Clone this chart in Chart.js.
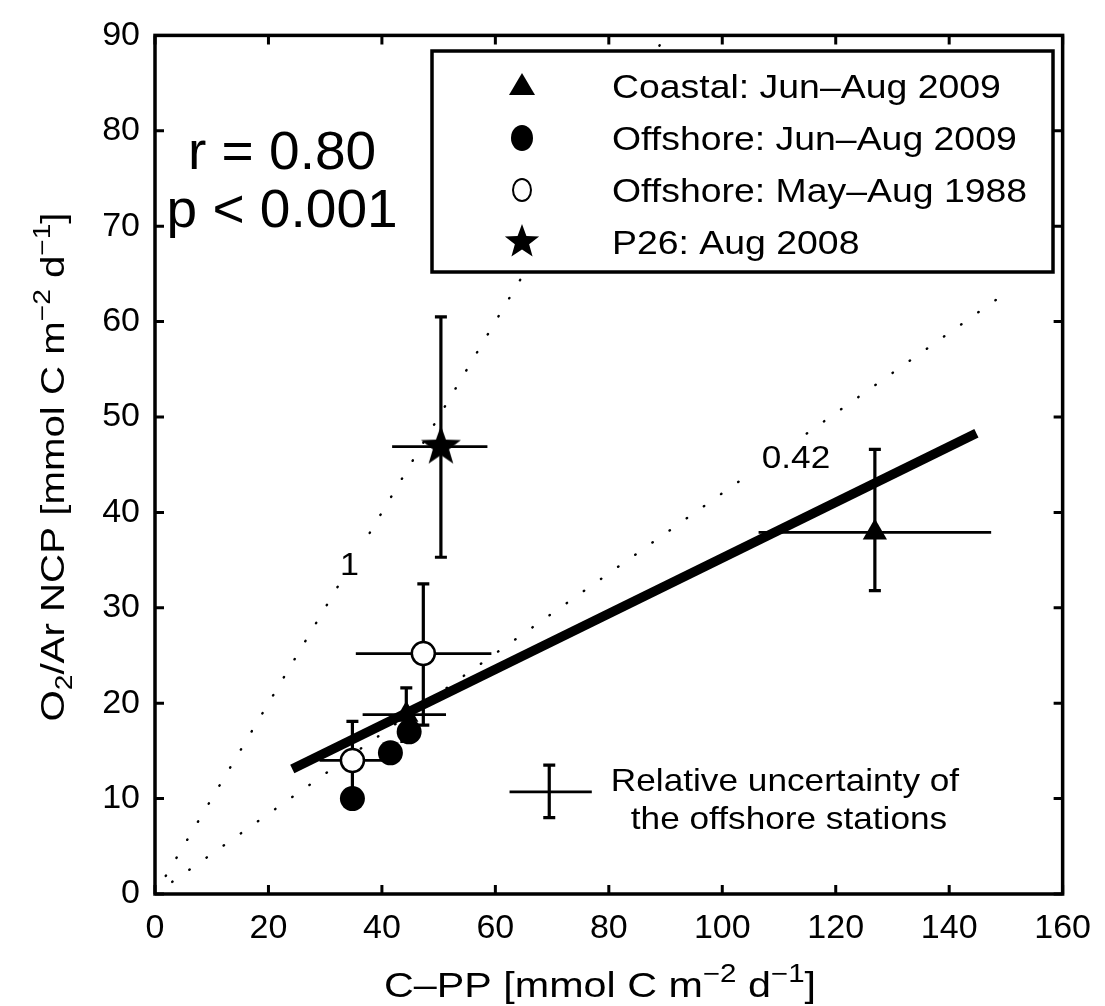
<!DOCTYPE html>
<html>
<head>
<meta charset="utf-8">
<script src="https://cdn.jsdelivr.net/npm/chart.js@4.4.0/dist/chart.umd.min.js"></script>
<style>
  html, body { margin: 0; padding: 0; background: #fff; }
</style>
</head>
<body>
<canvas id="myChart" width="1105" height="1006"></canvas>
<script>
const FONT = '"Liberation Sans", Arial, Helvetica, sans-serif'

// tick values
const xTickValues = [0, 20, 40, 60, 80, 100, 120, 140, 160]
const yTickValues = [0, 10, 20, 30, 40, 50, 60, 70, 80, 90]

// series names (legend)
const seriesNames = [
  "Coastal: Jun\u2013Aug 2009",
  "Offshore: Jun\u2013Aug 2009",
  "Offshore: May\u2013Aug 1988",
  "P26: Aug 2008",
]

// coastal Jun-Aug 2009
const coastalX = [44.3, 126.9]
const coastalY = [18.8, 37.9]
const coastalXLo = [36.6, 106.4]
const coastalXHi = [51.3, 147.4]
const coastalYLo = [16.0, 31.8]
const coastalYHi = [21.6, 46.6]

// offshore Jun-Aug 2009
const off09X = [34.8, 41.5, 44.8]
const off09Y = [10.0, 14.8, 17.0]

// offshore May-Aug 1988
const off88X = [34.8, 47.3]
const off88Y = [14.0, 25.2]
const off88XLo = [29.0, 35.4]
const off88XHi = [40.5, 59.3]
const off88YLo = [9.9, 17.7]
const off88YHi = [18.1, 32.5]

// P26 Aug 2008
const p26X = [50.4]
const p26Y = [46.9]
const p26XLo = [41.8]
const p26XHi = [58.6]
const p26YLo = [35.3]
const p26YHi = [60.5]

// relative uncertainty of the offshore stations (example cross)
const relX = [69.5]
const relY = [10.7]
const relXLo = [62.5]
const relXHi = [77.0]
const relYLo = [8.0]
const relYHi = [13.5]

// regression line and ratio lines
const fitX = [24.2, 144.8]
const fitY = [13.1, 48.3]
const oneX = [0, 90]
const oneY = [0, 90]
const ratioX = [0, 149]
const ratioY = [0, 62.6]

const pts = (xs, ys) => xs.map((x, i) => ({ x: x, y: ys[i] }))

function starCanvas(R, r) {
  const s = Math.ceil(R * 2 + 2)
  const c = document.createElement("canvas")
  c.width = s
  c.height = s
  const g = c.getContext("2d")
  g.translate(s / 2, s / 2)
  g.beginPath()
  for (let i = 0; i < 10; i++) {
    const rad = i % 2 ? r : R
    const a = -Math.PI / 2 + (i * Math.PI) / 5
    g.lineTo(rad * Math.cos(a), rad * Math.sin(a))
  }
  g.closePath()
  g.fillStyle = "#000"
  g.fill()
  return c
}
const bigStar = starCanvas(21, 8.5)
const legendStar = starCanvas(18, 7.5)

// error bars: horizontal plain, vertical with caps
function errorBars(ctx, xs, ys, xlo, xhi, ylo, yhi, sx, sy) {
  ctx.save()
  ctx.strokeStyle = "#000"
  ctx.lineCap = "butt"
  xs.forEach((x, i) => {
    const px = sx.getPixelForValue(x)
    const py = sy.getPixelForValue(ys[i])
    ctx.lineWidth = 2.8
    ctx.beginPath()
    ctx.moveTo(sx.getPixelForValue(xlo[i]), py)
    ctx.lineTo(sx.getPixelForValue(xhi[i]), py)
    ctx.stroke()
    const t = sy.getPixelForValue(yhi[i])
    const b = sy.getPixelForValue(ylo[i])
    ctx.lineWidth = 3.2
    ctx.beginPath()
    ctx.moveTo(px, t)
    ctx.lineTo(px, b)
    ctx.moveTo(px - 6, t)
    ctx.lineTo(px + 6, t)
    ctx.moveTo(px - 6, b)
    ctx.lineTo(px + 6, b)
    ctx.stroke()
  })
  ctx.restore()
}

// plain text, optionally stretched horizontally, optional white box behind
function txt(ctx, s, x, y, size, stretch, align, boxed) {
  ctx.save()
  ctx.font = size + "px " + FONT
  ctx.textAlign = align || "center"
  ctx.textBaseline = "alphabetic"
  ctx.translate(x, y)
  ctx.scale(stretch || 1, 1)
  if (boxed) {
    const w = ctx.measureText(s).width
    ctx.fillStyle = "#fff"
    ctx.fillRect(-w / 2 - 8, -size * 0.95, w + 16, size * 1.2)
  }
  ctx.fillStyle = "#000"
  ctx.fillText(s, 0, 0)
  ctx.restore()
}

// text with sub/superscripts; parts: [text, shift] shift -1 sub, 1 sup
function richText(ctx, parts, x, y, size, stretch) {
  const small = Math.round(size * 0.7)
  ctx.save()
  ctx.fillStyle = "#000"
  ctx.textAlign = "left"
  ctx.textBaseline = "alphabetic"
  let w = 0
  parts.forEach(p => {
    ctx.font = (p[1] ? small : size) + "px " + FONT
    w += ctx.measureText(p[0]).width
  })
  ctx.translate(x, y)
  ctx.scale(stretch || 1, 1)
  let cx = -w / 2
  parts.forEach(p => {
    ctx.font = (p[1] ? small : size) + "px " + FONT
    const dy = p[1] === 1 ? -size * 0.42 : p[1] === -1 ? size * 0.25 : 0
    ctx.fillText(p[0], cx, dy)
    cx += ctx.measureText(p[0]).width
  })
  ctx.restore()
}

const annot = {
  id: "annot",
  beforeDatasetsDraw(chart) {
    const ctx = chart.ctx
    const sx = chart.scales.x
    const sy = chart.scales.y
    errorBars(ctx, coastalX, coastalY, coastalXLo, coastalXHi, coastalYLo, coastalYHi, sx, sy)
    errorBars(ctx, off88X, off88Y, off88XLo, off88XHi, off88YLo, off88YHi, sx, sy)
    errorBars(ctx, p26X, p26Y, p26XLo, p26XHi, p26YLo, p26YHi, sx, sy)
    errorBars(ctx, relX, relY, relXLo, relXHi, relYLo, relYHi, sx, sy)
  },
  afterDatasetsDraw(chart) {
    const ctx = chart.ctx
    const a = chart.chartArea
    const sx = chart.scales.x
    const sy = chart.scales.y

    // line labels (white box hides the dots behind)
    txt(ctx, "1", sx.getPixelForValue(34.3), sy.getPixelForValue(34.6) + 11, 31, 1.1, "center", true)
    txt(ctx, "0.42", sx.getPixelForValue(113), sy.getPixelForValue(45.8) + 11, 32, 1.1, "center", true)

    // legend box
    const lx = 432, ly = 51, lw = 621, lh = 221
    ctx.save()
    ctx.fillStyle = "#fff"
    ctx.fillRect(lx, ly, lw, lh)
    ctx.strokeStyle = "#000"
    ctx.lineWidth = 3.5
    ctx.strokeRect(lx, ly, lw, lh)
    ctx.fillStyle = "#000"
    const rows = [86, 138, 190, 242]
    const mx = 522
    // triangle
    ctx.beginPath()
    ctx.moveTo(mx, rows[0] - 13)
    ctx.lineTo(mx + 13, rows[0] + 9)
    ctx.lineTo(mx - 13, rows[0] + 9)
    ctx.closePath()
    ctx.fill()
    // filled circle
    ctx.beginPath()
    ctx.ellipse(mx, rows[1], 11, 13, 0, 0, Math.PI * 2)
    ctx.fill()
    // open circle
    ctx.beginPath()
    ctx.ellipse(mx, rows[2], 9, 11, 0, 0, Math.PI * 2)
    ctx.lineWidth = 2
    ctx.stroke()
    // star
    ctx.drawImage(legendStar, mx - legendStar.width / 2, rows[3] - legendStar.height / 2)
    ctx.restore()
    seriesNames.forEach((n, i) => txt(ctx, n, 612, rows[i] + 12, 34, 1.1, "left"))

    // statistics
    txt(ctx, "r = 0.80", sx.getPixelForValue(22.4), sy.getPixelForValue(76.0), 54, 1.02)
    txt(ctx, "p < 0.001", sx.getPixelForValue(22.4), sy.getPixelForValue(69.9), 54, 1.02)

    // uncertainty note
    txt(ctx, "Relative uncertainty of", 785, 791, 32, 1.1)
    txt(ctx, "the offshore stations", 789, 829, 32, 1.1)

    // frame and inward ticks
    ctx.save()
    ctx.strokeStyle = "#000"
    ctx.lineWidth = 3.5
    ctx.strokeRect(a.left, a.top, a.right - a.left, a.bottom - a.top)
    ctx.lineWidth = 3
    ctx.beginPath()
    xTickValues.forEach(v => {
      const p = sx.getPixelForValue(v)
      ctx.moveTo(p, a.bottom)
      ctx.lineTo(p, a.bottom - 9)
      ctx.moveTo(p, a.top)
      ctx.lineTo(p, a.top + 9)
    })
    yTickValues.forEach(v => {
      const p = sy.getPixelForValue(v)
      ctx.moveTo(a.left, p)
      ctx.lineTo(a.left + 9, p)
      ctx.moveTo(a.right, p)
      ctx.lineTo(a.right - 9, p)
    })
    ctx.stroke()
    ctx.restore()

    // axis titles
    richText(ctx, [["C\u2013PP [mmol C m", 0], ["\u22122", 1], [" d", 0], ["\u22121", 1], ["]", 0]],
      600, 997, 35, 1.18)
    ctx.save()
    ctx.translate(64, 467)
    ctx.rotate(-Math.PI / 2)
    richText(ctx, [["O", 0], ["2", -1], ["/Ar NCP [mmol C m", 0], ["\u22122", 1], [" d", 0], ["\u22121", 1], ["]", 0]],
      0, 0, 33, 1.22)
    ctx.restore()
  },
}

const ctx = document.getElementById("myChart").getContext("2d")
const myChart = new Chart(ctx, {
  type: "scatter",
  data: {
    datasets: [
      {
        label: seriesNames[3],
        data: pts(p26X, p26Y),
        pointStyle: bigStar,
        order: 1,
      },
      {
        label: seriesNames[2],
        data: pts(off88X, off88Y),
        pointStyle: "circle",
        pointRadius: 11.5,
        backgroundColor: "#fff",
        borderColor: "#000",
        borderWidth: 2.5,
        order: 2,
      },
      {
        label: seriesNames[1],
        data: pts(off09X, off09Y),
        pointStyle: "circle",
        pointRadius: 12.5,
        backgroundColor: "#000",
        borderColor: "#000",
        borderWidth: 0,
        order: 3,
      },
      {
        label: seriesNames[0],
        data: pts(coastalX, coastalY),
        pointStyle: "triangle",
        pointRadius: 14,
        backgroundColor: "#000",
        borderColor: "#000",
        borderWidth: 0,
        order: 4,
      },
      {
        type: "line",
        label: "fit",
        data: pts(fitX, fitY),
        borderColor: "#000",
        borderWidth: 9.5,
        pointRadius: 0,
        borderCapStyle: "butt",
        order: 5,
      },
      {
        type: "line",
        label: "1:1",
        data: pts(oneX, oneY),
        borderColor: "#000",
        borderWidth: 2.4,
        borderDash: [0.5, 20.5],
        borderCapStyle: "round",
        pointRadius: 0,
        order: 6,
      },
      {
        type: "line",
        label: "0.42",
        data: pts(ratioX, ratioY),
        borderColor: "#000",
        borderWidth: 2.4,
        borderDash: [0.5, 20.5],
        borderCapStyle: "round",
        pointRadius: 0,
        order: 7,
      },
    ],
  },
  options: {
    responsive: false,
    animation: false,
    layout: { padding: { top: 25, right: 36, left: 0, bottom: 0 } },
    plugins: { legend: { display: false }, tooltip: { enabled: false } },
    scales: {
      x: {
        type: "linear",
        min: 0,
        max: 160,
        afterBuildTicks: s => { s.ticks = xTickValues.map(v => ({ value: v })) },
        afterFit: s => { s.height = 112 },
        grid: { display: false, drawTicks: false },
        border: { display: false },
        ticks: { color: "#000", padding: 14, font: { family: FONT, size: 34 } },
      },
      y: {
        type: "linear",
        min: 0,
        max: 90,
        afterBuildTicks: s => { s.ticks = yTickValues.map(v => ({ value: v })) },
        afterFit: s => { s.width = 155 },
        grid: { display: false, drawTicks: false },
        border: { display: false },
        ticks: { color: "#000", padding: 15, font: { family: FONT, size: 34 } },
      },
    },
  },
  plugins: [annot],
})
</script>
</body>
</html>
